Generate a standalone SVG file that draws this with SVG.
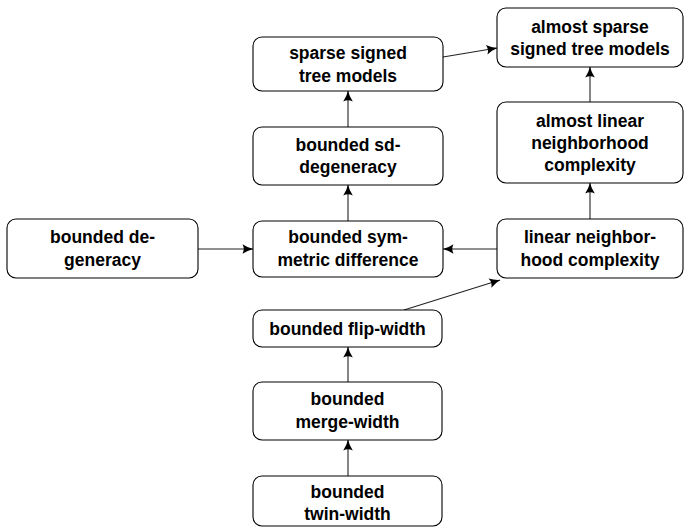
<svg xmlns="http://www.w3.org/2000/svg" width="684" height="528" viewBox="0 0 684 528">
  <style>
    .box { fill: #ffffff; stroke: #000000; stroke-width: 1.1; }
    .lbl { font-family: "Liberation Sans", Arial, sans-serif; font-weight: bold; font-size: 17.5px; fill: #000000; text-anchor: middle; }
    .edge { stroke: #222222; stroke-width: 1.1; fill: none; marker-end: url(#tip); }
  </style>
  <defs>
    <marker id="tip" viewBox="0 0 12 12" refX="11.5" refY="6" markerWidth="12" markerHeight="12" markerUnits="userSpaceOnUse" orient="auto">
      <path d="M1,1.2 Q6,4.6 11.8,6 Q6,7.4 1,10.8 Q3.5,6 1,1.2 Z" fill="#000000"/>
    </marker>
  </defs>

  <!-- connectors -->
  <g id="edges">
    <line class="edge" x1="348" y1="127" x2="348" y2="91"/>
    <line class="edge" x1="348" y1="221" x2="348" y2="185"/>
    <line class="edge" x1="443" y1="57" x2="497" y2="48"/>
    <line class="edge" x1="590" y1="102" x2="590" y2="67"/>
    <line class="edge" x1="590" y1="219" x2="590" y2="183"/>
    <line class="edge" x1="198" y1="249" x2="253" y2="249"/>
    <line class="edge" x1="497" y1="249" x2="443" y2="249"/>
    <line class="edge" x1="404" y1="310" x2="500" y2="280"/>
    <line class="edge" x1="348" y1="382" x2="348" y2="347"/>
    <line class="edge" x1="348" y1="476" x2="348" y2="440"/>
  </g>

  <g id="sparse-signed-tree-models">
    <rect class="box" x="253" y="37" width="190" height="54" rx="9"/>
    <text class="lbl" x="348" y="59">sparse signed</text>
    <text class="lbl" x="348" y="82">tree models</text>
  </g>

  <g id="bounded-sd-degeneracy">
    <rect class="box" x="253" y="127" width="190" height="58" rx="9"/>
    <text class="lbl" x="348" y="150.5">bounded sd-</text>
    <text class="lbl" x="348" y="173">degeneracy</text>
  </g>

  <g id="almost-sparse-signed-tree-models">
    <rect class="box" x="497" y="8" width="186" height="59" rx="9"/>
    <text class="lbl" x="590" y="33">almost sparse</text>
    <text class="lbl" x="590" y="54.5">signed tree models</text>
  </g>

  <g id="almost-linear-neighborhood-complexity">
    <rect class="box" x="497" y="102" width="186" height="81" rx="9"/>
    <text class="lbl" x="590" y="127">almost linear</text>
    <text class="lbl" x="590" y="149">neighborhood</text>
    <text class="lbl" x="590" y="171">complexity</text>
  </g>

  <g id="bounded-degeneracy">
    <rect class="box" x="7" y="219" width="191" height="59" rx="9"/>
    <text class="lbl" x="102.5" y="243">bounded de-</text>
    <text class="lbl" x="102.5" y="265.5">generacy</text>
  </g>

  <g id="bounded-symmetric-difference">
    <rect class="box" x="253" y="221" width="190" height="56" rx="9"/>
    <text class="lbl" x="348" y="243">bounded sym-</text>
    <text class="lbl" x="348" y="265.5">metric difference</text>
  </g>

  <g id="linear-neighborhood-complexity">
    <rect class="box" x="497" y="219" width="186" height="59" rx="9"/>
    <text class="lbl" x="590" y="243">linear neighbor-</text>
    <text class="lbl" x="590" y="265.5">hood complexity</text>
  </g>

  <g id="bounded-flip-width">
    <rect class="box" x="253" y="310" width="189" height="37" rx="9"/>
    <text class="lbl" x="347.5" y="334.5">bounded flip-width</text>
  </g>

  <g id="bounded-merge-width">
    <rect class="box" x="253" y="382" width="189" height="58" rx="9"/>
    <text class="lbl" x="347.5" y="405">bounded</text>
    <text class="lbl" x="347.5" y="427.5">merge-width</text>
  </g>

  <g id="bounded-twin-width">
    <rect class="box" x="253" y="476" width="189" height="50" rx="9"/>
    <text class="lbl" x="347.5" y="498">bounded</text>
    <text class="lbl" x="347.5" y="519.5">twin-width</text>
  </g>
</svg>
